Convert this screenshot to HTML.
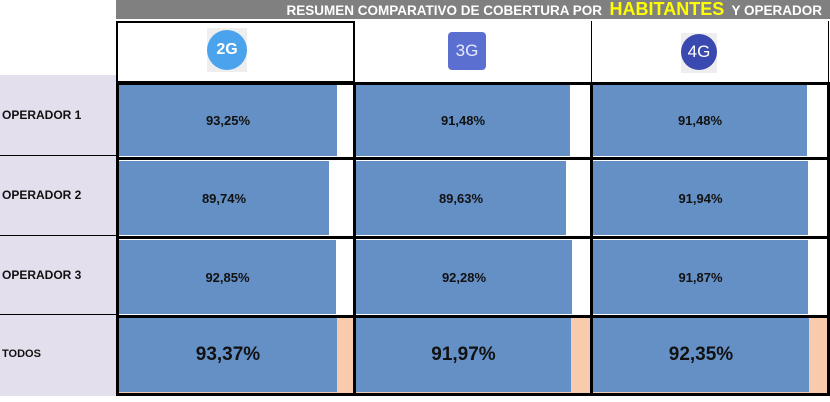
<!DOCTYPE html>
<html><head><meta charset="utf-8"><style>
body{margin:0;width:830px;height:402px;background:#fff;position:relative;overflow:hidden;font-family:"Liberation Sans",Calibri,sans-serif}
div{position:absolute;box-sizing:border-box}
.v{background:#000;width:3px}
.h{background:#000;height:3px}
.bar{background:#6490c6;display:flex;align-items:center;justify-content:center;font-weight:bold;font-size:13px;color:#111}
.big{font-size:19px}
.lab{left:2px;font-weight:bold;font-size:12px;color:#111}
.ic{width:40px;height:40px;border-radius:50%;color:#fff;font-weight:bold;display:flex;align-items:center;justify-content:center;font-size:16px}
</style></head><body>
<div style="left:116px;top:0;width:714px;height:19px;background:#808080;color:#fff;font-weight:bold;font-size:13.5px;text-align:right;padding-right:8px;line-height:19px;white-space:nowrap">RESUMEN COMPARATIVO DE COBERTURA POR &nbsp;<span style="color:#ffff00;font-size:18px">HABITANTES</span>&nbsp; Y OPERADOR</div>
<div style="left:0;top:75px;width:116px;height:321px;background:#e4dfec"></div>
<div style="left:0;top:155px;width:116px;height:1px;background:#000"></div>
<div style="left:0;top:235px;width:116px;height:1px;background:#000"></div>
<div style="left:0;top:314px;width:116px;height:1px;background:#000"></div>
<div class="lab" style="top:108px">OPERADOR 1</div>
<div class="lab" style="top:188px">OPERADOR 2</div>
<div class="lab" style="top:268px">OPERADOR 3</div>
<div class="lab" style="top:348px;font-size:11px">TODOS</div>
<div style="left:116px;top:21px;width:239px;height:62px;border:2px double #000"></div>
<div style="left:354px;top:21px;width:1px;height:62px;background:#000"></div>
<div style="left:591px;top:21px;width:1px;height:62px;background:#000"></div>
<div style="left:828px;top:21px;width:1px;height:62px;background:#000"></div>
<div style="left:207px;top:28px;width:40px;height:44px;background:#eee"></div>
<div class="ic" style="left:207px;top:30px;background:#4aa3ec">2G</div>
<div class="ic" style="left:448px;top:32px;width:38px;height:38px;border-radius:4px;background:#5a6fd0;font-weight:normal;font-size:17px;color:#e8eaff">3G</div>
<div style="left:681px;top:33px;width:36px;height:40px;background:#eee"></div>
<div class="ic" style="left:681px;top:34px;width:36px;height:36px;background:#3a49b0;font-weight:normal;font-size:17px">4G</div>
<div style="left:117px;top:316px;width:711px;height:78px;background:#f8cbad"></div>
<div class="bar" style="left:119px;top:84px;width:218px;height:72px">93,25%</div>
<div class="bar" style="left:356px;top:84px;width:214px;height:72px">91,48%</div>
<div class="bar" style="left:593px;top:84px;width:214px;height:72px">91,48%</div>
<div class="bar" style="left:119px;top:161px;width:210px;height:74px">89,74%</div>
<div class="bar" style="left:356px;top:161px;width:210px;height:74px">89,63%</div>
<div class="bar" style="left:593px;top:161px;width:215px;height:74px">91,94%</div>
<div class="bar" style="left:119px;top:240px;width:217px;height:74px">92,85%</div>
<div class="bar" style="left:356px;top:240px;width:216px;height:74px">92,28%</div>
<div class="bar" style="left:593px;top:240px;width:215px;height:74px">91,87%</div>
<div class="bar big" style="left:119px;top:318px;width:218px;height:74px">93,37%</div>
<div class="bar big" style="left:356px;top:318px;width:215px;height:74px">91,97%</div>
<div class="bar big" style="left:593px;top:318px;width:216px;height:74px">92,35%</div>
<div class="v" style="left:116px;top:82px;height:313px"></div>
<div class="v" style="left:353px;top:82px;height:313px"></div>
<div class="v" style="left:590px;top:82px;height:313px"></div>
<div class="v" style="left:827px;top:82px;height:313px"></div>
<div class="h" style="left:116px;top:82px;width:714px"></div>
<div class="h" style="left:116px;top:157px;width:714px"></div>
<div class="h" style="left:116px;top:236px;width:714px"></div>
<div class="h" style="left:116px;top:315px;width:714px"></div>
<div class="h" style="left:116px;top:393px;width:714px"></div>
</body></html>
